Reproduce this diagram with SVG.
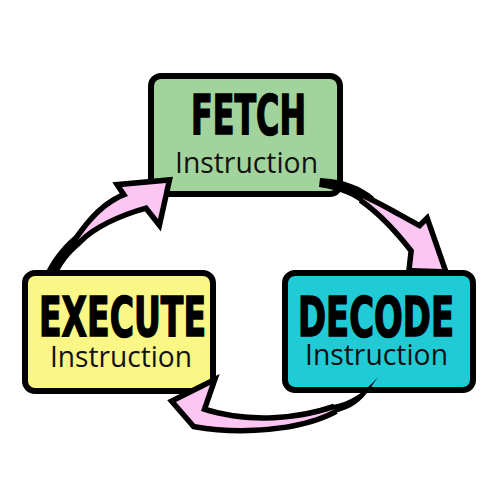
<svg xmlns="http://www.w3.org/2000/svg" width="500" height="500" viewBox="0 0 500 500">
<style>
.box{stroke:#000;stroke-width:6;}
.title{font-family:"Liberation Sans Narrow","DejaVu Sans Condensed","Liberation Sans",sans-serif;font-weight:bold;font-size:55px;fill:#000;stroke:#000;stroke-width:1.5;}
.sub{font-family:"Open Sans","Noto Sans",sans-serif;font-size:29px;fill:#111;}
.head{fill:#fcc6f3;stroke:#000;stroke-width:11;stroke-linejoin:miter;stroke-miterlimit:6;paint-order:stroke;}
.tail{fill:#000;stroke:none;}
</style>
<rect width="500" height="500" fill="#fff"/>
<g id="fetch">
<rect class="box" x="151" y="76" width="189" height="118" rx="10" fill="#a3d39c"/>
<text class="title" x="191" y="134" textLength="115" lengthAdjust="spacingAndGlyphs">FETCH</text>
<text class="sub" x="175" y="173" textLength="143" lengthAdjust="spacingAndGlyphs">Instruction</text>
</g>
<g id="decode">
<rect class="box" x="285" y="273" width="188" height="117" rx="10" fill="#20cbd5"/>
<text class="title" x="298" y="336" textLength="156" lengthAdjust="spacingAndGlyphs">DECODE</text>
<text class="sub" x="305" y="365" textLength="143" lengthAdjust="spacingAndGlyphs">Instruction</text>
</g>
<g id="execute">
<rect class="box" x="25" y="273" width="188" height="118" rx="10" fill="#fbf787"/>
<text class="title" x="39" y="336" textLength="167" lengthAdjust="spacingAndGlyphs">EXECUTE</text>
<text class="sub" x="50" y="367" textLength="142" lengthAdjust="spacingAndGlyphs">Instruction</text>
</g>
<g id="connectors">
<!-- FETCH to DECODE -->
<path class="tail" d="M320,178 C345,179 362,187 374,197 L366,206 C355,197 340,190 319,187 Z"/>
<path class="head" d="M362,198 C385,209 405,221 420,229 L426,223 L442,269 L412,268 L414,250 C400,232 382,212 362,198 Z"/>
<!-- DECODE to EXECUTE -->
<path class="tail" d="M378,377 C365,392 350,402 333,405 L333,413 C350,410 362,402 371,387 Z"/>
<path class="head" d="M335,409 C300,421 250,427 201,411 L210,385 L176,402 L195,424 C240,432 300,428 335,409 Z"/>
<!-- EXECUTE to FETCH -->
<path class="tail" d="M44,276 C50,262 60,248 74,236 L82,244 C70,254 62,264 57,276 Z"/>
<path class="head" d="M78,240 C92,220 106,204 128,196 L122,187 L166,183 L158,219 L147,205 C118,213 93,225 78,240 Z"/>
</g>
</svg>
